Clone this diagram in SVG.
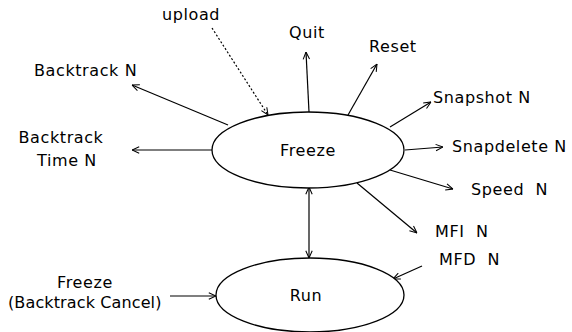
<svg xmlns="http://www.w3.org/2000/svg" width="572" height="332" viewBox="0 0 572 332">
<defs>
<marker id="ah" viewBox="0 0 10 10" refX="10" refY="5" markerWidth="8" markerHeight="8" markerUnits="userSpaceOnUse" orient="auto-start-reverse">
<path d="M1,1 L10,5 L1,9" fill="none" stroke="#000" stroke-width="1.3"/>
</marker>
</defs>
<style>
text{font-family:"DejaVu Sans","Liberation Sans",sans-serif;font-size:16px;letter-spacing:0.6px;fill:#000;white-space:pre}
.c{text-anchor:middle}
.n{fill:#fff;stroke:#000;stroke-width:1.3}
.l{fill:none;stroke:#000;stroke-width:1.2;marker-end:url(#ah)}
.d{stroke-dasharray:2,2}
</style>
<rect width="572" height="332" fill="#fff"/>
<g id="connectors">
<path class="l d" d="M212,28 L268,115"/>
<path class="l" d="M309,112 L306,52"/>
<path class="l" d="M348,115 L377,64"/>
<path class="l" d="M390,127 L431,102"/>
<path class="l" d="M405,150 L443,147"/>
<path class="l" d="M390,170 L453,189"/>
<path class="l" d="M357,183 L417,233"/>
<path class="l" d="M422,266 L393,279"/>
<path class="l" d="M228,125 L132,85"/>
<path class="l" d="M212,150 L132,150"/>
<path class="l" d="M170,296 L216,296"/>
<path class="l" d="M309,187 L309,258" marker-start="url(#ah)"/>
</g>
<g id="freeze">
<ellipse class="n" cx="308" cy="150" rx="96" ry="38"/>
<text class="c" x="308" y="156">Freeze</text>
</g>
<g id="run">
<ellipse class="n" cx="310" cy="295" rx="94" ry="37"/>
<text class="c" x="306" y="301">Run</text>
</g>
<g id="upload"><text x="162" y="20">upload</text></g>
<g id="quit"><text x="289" y="38">Quit</text></g>
<g id="reset"><text x="369" y="52">Reset</text></g>
<g id="snapshot"><text x="433" y="103">Snapshot N</text></g>
<g id="snapdelete"><text x="452" y="152">Snapdelete N</text></g>
<g id="speed"><text x="471" y="195">Speed  N</text></g>
<g id="mfi"><text x="435" y="237">MFI  N</text></g>
<g id="mfd"><text x="439" y="265">MFD  N</text></g>
<g id="backtrack"><text x="34" y="76">Backtrack N</text></g>
<g id="backtracktime">
<text class="c" x="61" y="143">Backtrack</text>
<text class="c" x="67" y="166">Time N</text>
</g>
<g id="freezecancel">
<text class="c" x="85" y="288">Freeze</text>
<text class="c" x="85" y="308" textLength="154">(Backtrack Cancel)</text>
</g>
</svg>
